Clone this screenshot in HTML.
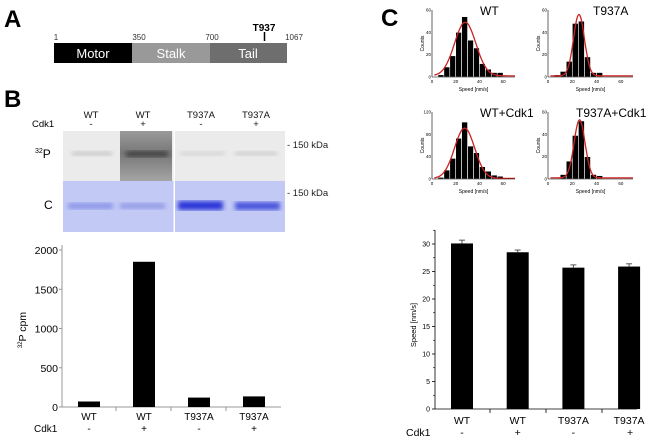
<!DOCTYPE html>
<html><head><meta charset="utf-8"><style>
body{margin:0;background:#fff}
svg{display:block;font-family:"Liberation Sans",sans-serif}
</style></head><body>
<svg width="659" height="437" viewBox="0 0 659 437">
<defs>
<linearGradient id="lane" x1="0" x2="0" y1="0" y2="1"><stop offset="0" stop-color="#9a9a9a"/><stop offset="0.45" stop-color="#777"/><stop offset="1" stop-color="#a5a5a5"/></linearGradient>
<filter id="blur"><feGaussianBlur stdDeviation="2.5"/></filter>
</defs>
<g>
<text x="4" y="27" font-size="24" font-weight="bold">A</text>
<rect x="54" y="43" width="78" height="20" fill="#000"/>
<rect x="132" y="43" width="78" height="20" fill="#999"/>
<rect x="210" y="43" width="77" height="20" fill="#6e6e6e"/>
<g font-size="13" fill="#fff" text-anchor="middle">
<text x="93" y="58">Motor</text><text x="171" y="58">Stalk</text><text x="248" y="58">Tail</text></g>
<g font-size="8" fill="#333" text-anchor="middle">
<text x="56" y="40">1</text><text x="139" y="40">350</text><text x="212" y="40">700</text><text x="294" y="40">1067</text></g>
<text x="264" y="31" font-size="10" font-weight="bold" text-anchor="middle">T937</text>
<line x1="264.5" y1="32" x2="264.5" y2="41" stroke="#000" stroke-width="1.5"/>
</g>
<g>
<text x="4" y="107" font-size="24" font-weight="bold">B</text>
<g font-size="9.5" text-anchor="middle" fill="#111">
<text x="91" y="118">WT</text><text x="143" y="118">WT</text><text x="201" y="118">T937A</text><text x="256" y="118">T937A</text>
<text x="91" y="127">-</text><text x="143" y="127">+</text><text x="201" y="127">-</text><text x="256" y="127">+</text></g>
<text x="32" y="127" font-size="9.5">Cdk1</text>
<rect x="63" y="131" width="222" height="50" fill="#ebebeb"/>
<rect x="120" y="131" width="52" height="50" fill="url(#lane)"/>
<rect x="72" y="151" width="40" height="5" fill="#ccc" filter="url(#blur)"/>
<rect x="126" y="151" width="42" height="6" fill="#444" filter="url(#blur)"/>
<rect x="180" y="151" width="45" height="5" fill="#d8d8d8" filter="url(#blur)"/>
<rect x="235" y="151" width="42" height="5" fill="#d2d2d2" filter="url(#blur)"/>
<rect x="63" y="181" width="222" height="51" fill="#c2c9f5"/>
<rect x="68" y="203" width="45" height="6" fill="#8a94e8" filter="url(#blur)"/>
<rect x="120" y="203" width="45" height="6" fill="#949de8" filter="url(#blur)"/>
<rect x="178" y="201" width="45" height="9" fill="#2a35d8" filter="url(#blur)"/>
<rect x="235" y="202" width="45" height="8" fill="#4a55dd" filter="url(#blur)"/>
<rect x="173.5" y="131" width="1.5" height="101" fill="#fff"/>
<text x="287" y="148" font-size="9.5" fill="#222">- 150 kDa</text>
<text x="287" y="196" font-size="9.5" fill="#222">- 150 kDa</text>
<text x="35" y="158" font-size="12"><tspan font-size="7" dy="-5">32</tspan><tspan dy="5">P</tspan></text>
<text x="44" y="209" font-size="12">C</text>
</g>
<g id="chartB"></g>
<g id="hists"></g>
<g id="chartC"></g>
<text x="381" y="26" font-size="24" font-weight="bold">C</text>
</svg>
<script>
const NS='http://www.w3.org/2000/svg';
function mk(p,t,a,txt){const e=document.createElementNS(NS,t);for(const k in a)e.setAttribute(k,a[k]);if(txt!==undefined)e.textContent=txt;p.appendChild(e);return e;}

const bCats=['WT','WT','T937A','T937A'];
const bCdk=['-','+','-','+'];
const bVals=[70,1850,120,135];
const bTicks=[0,500,1000,1500,2000];
const cCats=['WT','WT','T937A','T937A'];
const cCdk=['-','+','-','+'];
const cVals=[30.1,28.5,25.7,25.9];
const cErr=[0.6,0.4,0.5,0.5];
const cTicks=[0,5,10,15,20,25,30];
const hTitles=['WT','T937A','WT+Cdk1','T937A+Cdk1'];
const hWT=[2,9,19,40,54,33,26,12,7,4,4];
const hT937A=[2,5,14,48,50,18,4,4,0,0,0];
const hWTCdk=[3,16,37,73,102,59,47,22,14,7,5];
const hTCdk=[0,4,16,39,52,20,4,3,0,0,0];
const hMax=[60,60,120,60];
const hYTicks=[[0,20,40,60],[0,20,40,60],[0,40,80,120],[0,20,40,60]];
const hFitMean=[28,25.5,27.5,26];
const hFitSd=[9,4.5,8.5,4.5];
const hFitAmp=[48,55,90,52];
const hXTicks=[0,20,40,60];

(function(){
const g=document.getElementById('chartB');
const x0=62,x1=281,yb=407,yt=250;
const y=v=>yb-(v/2000)*(yb-yt);
const cx=i=>89+i*55;
mk(g,'line',{x1:x0,y1:245,x2:x0,y2:yb,stroke:'#999'});
mk(g,'line',{x1:x0,y1:yb,x2:x1,y2:yb,stroke:'#999'});
bTicks.forEach(t=>{mk(g,'line',{x1:x0-3,y1:y(t),x2:x0,y2:y(t),stroke:'#999'});
const e=mk(g,'text',{x:x0-4,y:y(t)+4,'font-size':10.5,'text-anchor':'end'},t);

});
[116,171,226].forEach(xx=>mk(g,'line',{x1:xx,y1:yb,x2:xx,y2:yb+4,stroke:'#999'}));
bVals.forEach((v,i)=>{const r=mk(g,'rect',{x:cx(i)-11,y:y(v),width:22,height:yb-y(v),fill:'#000'});


mk(g,'text',{x:cx(i),y:420,'font-size':10,'text-anchor':'middle'},bCats[i]);
mk(g,'text',{x:cx(i),y:432,'font-size':10,'text-anchor':'middle'},bCdk[i]);});
mk(g,'text',{x:34,y:432,'font-size':10},'Cdk1');
const t=mk(g,'text',{transform:'translate(26,330) rotate(-90)','font-size':10.5,'text-anchor':'middle'});


mk(t,'tspan',{'font-size':6,dy:-4},'32');mk(t,'tspan',{dy:4},'P cpm');
})();

(function(){
const g=document.getElementById('hists');
const data=[hWT,hT937A,hWTCdk,hTCdk];
const pos=[[432,515,10,77],[548,633,10,77],[432,515,112,179],[548,633,112,179]];
const titleX=[480,593,480,576];
data.forEach((d,k)=>{
const [xl,xr,yt,yb]=pos[k];
const x=v=>xl+v/70*(xr-xl);const y=v=>yb-v/hMax[k]*(yb-yt);
const sg=mk(g,'g',{});


d.forEach((c,i)=>{if(!c)return;const r=mk(sg,'rect',{x:x(5+i*5),y:y(c),width:x(10)-x(5),height:yb-y(c),fill:'#000',stroke:'#fff','stroke-width':0.6});

});
let p='';for(let s=2;s<=70;s+=0.5){const v=hFitAmp[k]*Math.exp(-Math.pow(s-hFitMean[k],2)/(2*hFitSd[k]*hFitSd[k]))+1;p+=(p?'L':'M')+x(s).toFixed(1)+','+y(v).toFixed(1);}
mk(sg,'path',{d:p,fill:'none',stroke:'#c22',"stroke-width":1.3});
mk(sg,'line',{x1:xl,y1:yt,x2:xl,y2:yb,stroke:'#000','stroke-width':0.6});
mk(sg,'line',{x1:xl,y1:yb,x2:xr,y2:yb,stroke:'#000','stroke-width':0.6});
hYTicks[k].forEach(t=>mk(sg,'text',{x:xl-1,y:y(t)+1.5,'font-size':4.5,'text-anchor':'end'},t));
hXTicks.forEach(t=>mk(sg,'text',{x:x(t),y:yb+6,'font-size':4.5,'text-anchor':'middle'},t));
mk(sg,'text',{x:(xl+xr)/2,y:yb+14,'font-size':5,'text-anchor':'middle'},'Speed [nm/s]');
mk(sg,'text',{transform:`translate(${xl-8},${(yt+yb)/2}) rotate(-90)`,'font-size':5,'text-anchor':'middle'},'Counts');
mk(sg,'text',{x:titleX[k],y:yt+5,'font-size':12},hTitles[k]);
});
})();

(function(){
const g=document.getElementById('chartC');
const x0=435,x1=637,yb=409,yt=244;
const y=v=>yb-v/30*(yb-yt);
const cx=i=>462+i*55.7;
mk(g,'line',{x1:x0,y1:230,x2:x0,y2:yb,stroke:'#000','stroke-width':0.8});
mk(g,'line',{x1:x0,y1:yb,x2:x1,y2:yb,stroke:'#000','stroke-width':0.8});
cTicks.forEach(t=>{mk(g,'line',{x1:x0-3,y1:y(t),x2:x0,y2:y(t),stroke:'#000','stroke-width':0.8});
mk(g,'line',{x1:x0-2,y1:y(t+2.5),x2:x0,y2:y(t+2.5),stroke:'#000','stroke-width':0.6});
mk(g,'text',{x:x0-5,y:y(t)+2.5,'font-size':7,'text-anchor':'end'},t);});
[490,546,602].forEach(xx=>mk(g,'line',{x1:xx,y1:yb,x2:xx,y2:yb+4,stroke:'#000','stroke-width':0.8}));
cVals.forEach((v,i)=>{
mk(g,'line',{x1:cx(i),y1:y(v+cErr[i]),x2:cx(i),y2:y(v),stroke:'#555'});
mk(g,'line',{x1:cx(i)-3,y1:y(v+cErr[i]),x2:cx(i)+3,y2:y(v+cErr[i]),stroke:'#555'});
const r=mk(g,'rect',{x:cx(i)-11,y:y(v),width:22,height:yb-y(v),fill:'#000'});


mk(g,'text',{x:cx(i),y:424,'font-size':10.5,'text-anchor':'middle'},cCats[i]);
mk(g,'text',{x:cx(i)+(i==3?1:0),y:436,'font-size':10.5,'text-anchor':'middle'},cCdk[i]);});
mk(g,'text',{x:406,y:436,'font-size':10.5},'Cdk1');
const t=mk(g,'text',{transform:'translate(416,325) rotate(-90)','font-size':7.5,'text-anchor':'middle'},'Speed [nm/s]');


})();
</script>
</body></html>
